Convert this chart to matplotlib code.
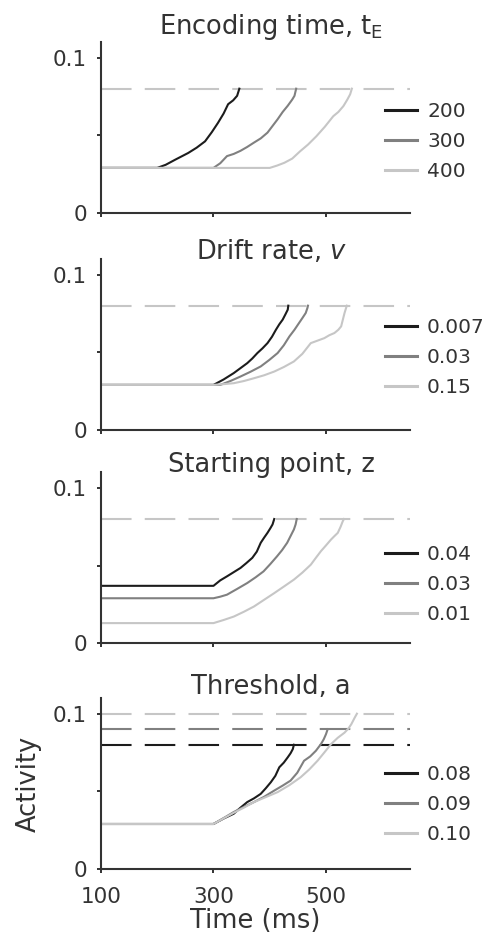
import matplotlib
matplotlib.use('Agg')
import matplotlib.pyplot as plt

plt.rcParams['font.family'] = 'DejaVu Sans'
plt.rcParams['mathtext.fontset'] = 'dejavusans'
plt.rcParams['lines.scale_dashes'] = False

# time axis (ms) and threshold line extent
t_min, t_max, t_right = 100, 650, 700

# shades used for the three parameter levels in every panel
shades = ['#1c1c1c', '#808080', '#c6c6c6']
ink = '#333333'

# --- Encoding time, tE ---
enc_labels = ['200', '300', '400']
enc_thresh = [0.08]
enc_t = [
    [100, 200, 215, 232, 255, 270, 285, 297, 308, 318, 326, 335, 342, 346],
    [100, 300, 312, 324, 336, 348, 360, 372, 384, 396, 405, 414, 423, 432, 440, 444, 447],
    [100, 400, 413, 426, 440, 454, 468, 483, 498, 513, 522, 531, 538, 543, 546],
]
enc_a = [
    [0.029, 0.029, 0.031, 0.0343, 0.0386, 0.042, 0.0461, 0.052, 0.058, 0.064, 0.070, 0.0725, 0.0754, 0.080],
    [0.029, 0.029, 0.032, 0.0366, 0.038, 0.040, 0.0425, 0.0453, 0.048, 0.0517, 0.056, 0.0603, 0.065, 0.069, 0.073, 0.0754, 0.080],
    [0.029, 0.029, 0.0305, 0.0323, 0.035, 0.0397, 0.044, 0.0494, 0.0555, 0.0623, 0.065, 0.0688, 0.073, 0.0764, 0.080],
]

# --- Drift rate, v ---
drift_labels = ['0.007', '0.03', '0.15']
drift_thresh = [0.08]
drift_t = [
    [100, 300, 318, 336, 348, 360, 369, 378, 387, 396, 404, 411, 417, 423, 428, 432, 433],
    [100, 300, 312, 330, 348, 366, 384, 399, 414, 425, 435, 444, 452, 458, 464, 467, 468],
    [100, 300, 318, 336, 354, 372, 390, 408, 425, 443, 458, 473, 485, 497, 506, 515, 522, 527, 530, 533, 537],
]
drift_a = [
    [0.029, 0.029, 0.0325, 0.0366, 0.0398, 0.043, 0.046, 0.0495, 0.0525, 0.0559, 0.060, 0.0645, 0.068, 0.071, 0.0745, 0.0774, 0.080],
    [0.029, 0.029, 0.029, 0.0315, 0.0344, 0.0375, 0.0409, 0.045, 0.0495, 0.0545, 0.0602, 0.0645, 0.0688, 0.072, 0.0753, 0.0785, 0.080],
    [0.029, 0.029, 0.0295, 0.0301, 0.0315, 0.0333, 0.0352, 0.0376, 0.0405, 0.0441, 0.049, 0.0559, 0.0575, 0.0591, 0.061, 0.0624, 0.0645, 0.0667, 0.071, 0.0753, 0.080],
]

# --- Starting point, z ---
start_labels = ['0.04', '0.03', '0.01']
start_thresh = [0.08]
start_t = [
    [100, 300, 312, 324, 336, 348, 358, 369, 377, 384, 390, 396, 401, 405, 408],
    [100, 300, 312, 324, 342, 360, 375, 389, 401, 413, 422, 431, 437, 443, 446, 448],
    [100, 300, 318, 336, 354, 372, 390, 408, 425, 443, 458, 473, 482, 491, 500, 509, 515, 521, 526, 530, 532],
]
start_a = [
    [0.037, 0.037, 0.0405, 0.0431, 0.0458, 0.0485, 0.0515, 0.055, 0.059, 0.0647, 0.068, 0.0711, 0.074, 0.0765, 0.080],
    [0.029, 0.029, 0.030, 0.0313, 0.035, 0.0388, 0.0425, 0.0463, 0.051, 0.056, 0.060, 0.0647, 0.069, 0.0733, 0.0765, 0.080],
    [0.013, 0.013, 0.015, 0.0172, 0.0203, 0.0237, 0.028, 0.0323, 0.0365, 0.041, 0.0455, 0.0506, 0.055, 0.0593, 0.063, 0.0668, 0.069, 0.0711, 0.075, 0.0787, 0.080],
]

# --- Threshold, a ---
thr_labels = ['0.08', '0.09', '0.10']
thr_thresh = [0.08, 0.09, 0.10]
thr_t = [
    [100, 300, 318, 336, 348, 360, 372, 384, 393, 402, 410, 417, 425, 432, 437, 441, 443],
    [100, 300, 318, 336, 354, 372, 390, 408, 423, 437, 449, 461, 472, 482, 491, 496, 500, 503],
    [100, 300, 318, 336, 354, 372, 393, 414, 435, 455, 470, 485, 497, 509, 521, 533, 540, 545, 551, 555],
]
thr_a = [
    [0.029, 0.029, 0.0325, 0.0356, 0.0395, 0.0431, 0.0455, 0.0484, 0.052, 0.0559, 0.060, 0.0655, 0.0685, 0.0719, 0.0745, 0.0772, 0.080],
    [0.029, 0.029, 0.0328, 0.0367, 0.040, 0.0431, 0.0465, 0.0505, 0.0537, 0.0569, 0.062, 0.0697, 0.0725, 0.0761, 0.0804, 0.0835, 0.0868, 0.090],
    [0.029, 0.029, 0.0326, 0.0362, 0.0395, 0.0431, 0.0463, 0.0495, 0.054, 0.0591, 0.064, 0.0697, 0.075, 0.0804, 0.0845, 0.0878, 0.0905, 0.0932, 0.0974, 0.100],
]

panels = [
    ('Encoding time, t$_\\mathrm{E}$', enc_t, enc_a, enc_labels, enc_thresh, 0.7732, 1.05, 0.418),
    ('Drift rate, $\\it{v}$', drift_t, drift_a, drift_labels, drift_thresh, 0.5421, 1.0, 0.422),
    ('Starting point, z', start_t, start_a, start_labels, start_thresh, 0.3149, 1.0, 0.343),
    ('Threshold, a', thr_t, thr_a, thr_labels, thr_thresh, 0.0745, 1.025, 0.378),
]

fig = plt.figure(figsize=(4.86, 9.39), dpi=100)

for k, (title, ts, acts, labels, thresh, bottom, title_y, leg_y) in enumerate(panels):
    ax = fig.add_axes([0.2078, bottom, 0.6944, 0.182])

    # threshold(s): one grey line, or one per level in the last panel
    if len(thresh) == 1:
        ax.plot([t_min, t_max], [thresh[0]] * 2, color=shades[2], lw=1.5,
                dashes=(22, 9.5), zorder=1)
    else:
        for thr, c in zip(thresh, shades):
            ax.plot([t_min, t_max], [thr, thr], color=c, lw=1.5,
                    dashes=(22, 9.5), zorder=1)

    for t, a, lab, c in zip(ts, acts, labels, shades):
        ax.plot(t, a, color=c, lw=1.5, label=lab, zorder=2)

    ax.set_xlim(t_min, t_right)
    ax.set_ylim(0, 0.11)
    ax.spines['top'].set_visible(False)
    ax.spines['right'].set_visible(False)
    ax.spines['bottom'].set_bounds(t_min, t_max)
    for s in ('left', 'bottom'):
        ax.spines[s].set_linewidth(1.5)
        ax.spines[s].set_color(ink)

    ax.set_yticks([0, 0.05, 0.1])
    ax.set_yticklabels(['0', '', '0.1'])
    ax.set_xticks([100, 300, 500])
    ax.tick_params(direction='out', length=3, width=1.4, color=ink,
                   labelcolor=ink, labelsize=15.5, pad=7)
    ax.tick_params(axis='x', pad=10)
    if k < 3:
        ax.set_xticklabels([])

    ax.text(0.504, title_y, title, transform=ax.transAxes, ha='center',
            va='baseline', fontsize=18.5, color=ink)

    leg = ax.legend(loc='center left', bbox_to_anchor=(0.841, leg_y),
                    frameon=False, fontsize=14.5, handlelength=1.6,
                    handletextpad=0.5, labelspacing=0.55, borderpad=0,
                    borderaxespad=0)
    for line in leg.get_lines():
        line.set_linewidth(2.2)
    for txt in leg.get_texts():
        txt.set_color(ink)

    if k == 3:
        ax.set_xlabel('Time (ms)', fontsize=18.5, color=ink, labelpad=0)
        ax.xaxis.set_label_coords(0.458, -0.23, transform=ax.transAxes)
        ax.xaxis.label.set_va('top')
        ax.set_ylabel('Activity', fontsize=18.5, color=ink)
        ax.yaxis.set_label_coords(-0.175, 0.5)

fig.savefig('out.png', dpi=100)
